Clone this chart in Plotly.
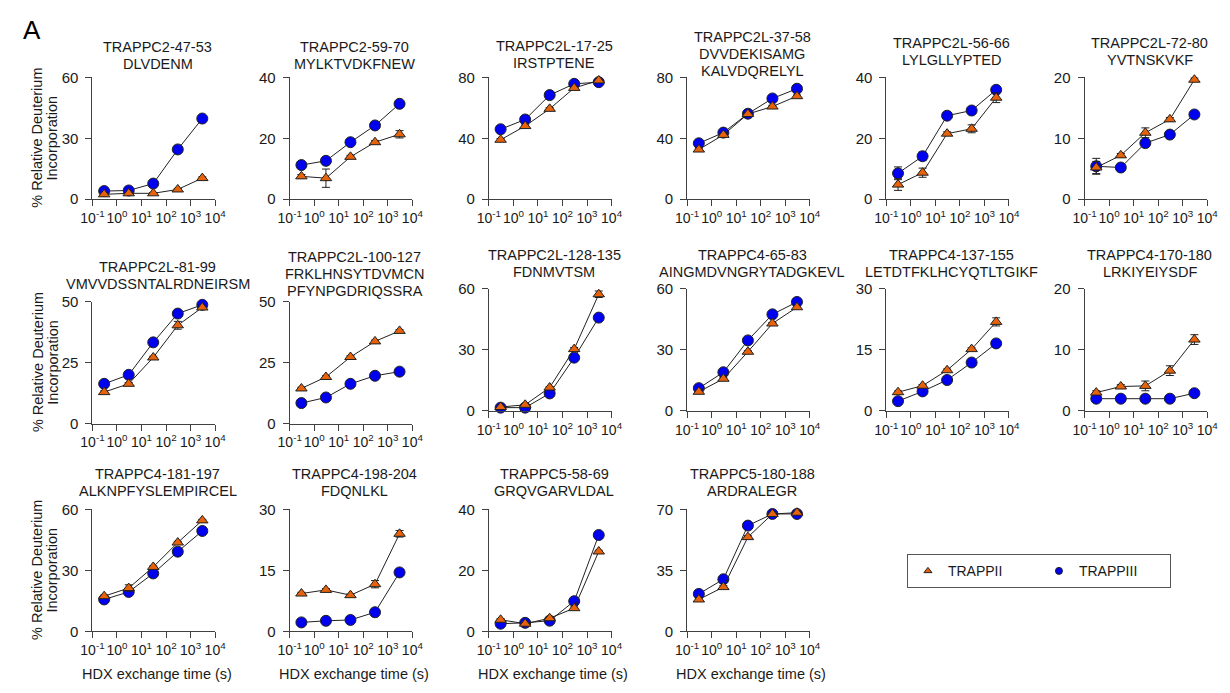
import plotly.graph_objects as go

# HDX exchange time points (s)
TIMES_S = [0.3, 3, 30, 300, 3000]

PEPTIDES = [
    "TRAPPC2-47-53", "TRAPPC2-59-70", "TRAPPC2L-17-25", "TRAPPC2L-37-58",
    "TRAPPC2L-56-66", "TRAPPC2L-72-80", "TRAPPC2L-81-99", "TRAPPC2L-100-127",
    "TRAPPC2L-128-135", "TRAPPC4-65-83", "TRAPPC4-137-155", "TRAPPC4-170-180",
    "TRAPPC4-181-197", "TRAPPC4-198-204", "TRAPPC5-58-69", "TRAPPC5-180-188",
]
SEQUENCES = [
    ["DLVDENM"], ["MYLKTVDKFNEW"], ["IRSTPTENE"], ["DVVDEKISAMG", "KALVDQRELYL"],
    ["LYLGLLYPTED"], ["YVTNSKVKF"], ["VMVVDSSNTALRDNEIRSM"], ["FRKLHNSYTDVMCN", "PFYNPGDRIQSSRA"],
    ["FDNMVTSM"], ["AINGMDVNGRYTADGKEVL"], ["LETDTFKLHCYQTLTGIKF"], ["LRKIYEIYSDF"],
    ["ALKNPFYSLEMPIRCEL"], ["FDQNLKL"], ["GRQVGARVLDAL"], ["ARDRALEGR"],
]
Y_MAX = [60, 40, 80, 80, 40, 20, 50, 50, 60, 60, 30, 20, 60, 30, 40, 70]

# % relative deuterium incorporation (mean)
TRAPPII = [
    [2.4, 2.9, 2.9, 4.8, 10.4],
    [7.5, 6.9, 13.9, 18.7, 21.3],
    [39.0, 48.0, 59.3, 73.0, 77.9],
    [32.6, 42.2, 55.9, 60.8, 67.6],
    [4.8, 8.7, 21.5, 23.1, 33.3],
    [5.2, 7.2, 10.9, 13.1, 19.6],
    [12.9, 16.3, 27.1, 40.3, 47.6],
    [14.4, 19.1, 27.3, 33.7, 38.0],
    [1.9, 3.0, 11.5, 30.4, 57.4],
    [9.4, 15.8, 29.1, 43.0, 51.0],
    [4.6, 6.2, 10.0, 15.2, 21.9],
    [3.0, 4.0, 4.1, 6.6, 11.7],
    [17.3, 21.3, 31.7, 43.7, 54.6],
    [9.3, 10.2, 8.9, 11.6, 24.0],
    [3.8, 2.5, 4.3, 7.6, 26.2],
    [18.3, 25.4, 54.1, 67.4, 68.1],
]
TRAPPIII = [
    [4.0, 4.3, 7.7, 24.5, 39.7],
    [11.2, 12.6, 18.7, 24.2, 31.3],
    [45.9, 52.3, 68.3, 75.7, 76.8],
    [36.7, 43.7, 56.1, 66.1, 72.5],
    [8.5, 14.1, 27.4, 29.1, 35.9],
    [5.4, 5.2, 9.2, 10.6, 13.9],
    [16.3, 20.0, 33.3, 45.1, 48.7],
    [8.4, 10.7, 16.3, 19.6, 21.3],
    [1.6, 1.6, 8.6, 26.2, 45.9],
    [11.2, 19.0, 34.7, 47.5, 53.6],
    [2.4, 4.8, 7.6, 11.9, 16.6],
    [2.0, 2.0, 2.0, 2.0, 2.9],
    [15.7, 19.4, 28.5, 39.2, 49.4],
    [2.2, 2.6, 2.8, 4.7, 14.5],
    [2.5, 2.8, 3.5, 9.9, 31.6],
    [21.5, 29.9, 60.7, 67.4, 67.4],
]

# standard deviations
TRAPPII_SD = [
    [0.5, 0.5, 0.4, 0.5, 0.6],
    [0.6, 3.0, 0.5, 0.5, 1.2],
    [0.8, 0.8, 0.8, 0.8, 0.8],
    [0.8, 0.8, 0.8, 0.8, 0.8],
    [1.9, 1.5, 0.6, 1.3, 1.6],
    [1.0, 0.3, 0.8, 0.3, 0.3],
    [0.5, 0.5, 0.5, 1.6, 0.7],
    [0.5, 0.5, 0.5, 0.5, 0.5],
    [0.5, 0.5, 0.5, 0.8, 1.6],
    [0.5, 0.5, 0.5, 0.5, 0.5],
    [0.3, 0.3, 0.3, 0.3, 1.0],
    [0.3, 0.3, 0.8, 0.8, 0.8],
    [0.5, 1.6, 0.5, 0.6, 0.5],
    [0.3, 0.3, 0.3, 0.9, 0.8],
    [0.4, 0.4, 0.4, 0.4, 0.4],
    [0.8, 0.8, 0.8, 0.8, 0.8],
]
TRAPPIII_SD = [
    [0.5, 0.4, 0.5, 0.6, 0.5],
    [0.4, 0.4, 0.5, 0.5, 0.5],
    [0.8, 0.8, 0.8, 0.8, 0.8],
    [0.8, 0.8, 0.8, 0.8, 0.8],
    [2.1, 1.4, 0.9, 0.7, 0.6],
    [1.3, 0.3, 0.3, 0.3, 0.3],
    [0.5, 1.1, 0.5, 0.5, 0.5],
    [0.5, 0.5, 0.5, 0.5, 0.5],
    [0.5, 0.5, 0.5, 0.5, 0.5],
    [0.5, 0.5, 0.5, 0.5, 0.5],
    [0.3, 0.3, 0.3, 0.3, 0.3],
    [0.2, 0.2, 0.2, 0.2, 0.2],
    [0.5, 0.5, 0.5, 0.5, 0.5],
    [0.3, 0.3, 0.3, 0.3, 0.3],
    [0.4, 0.4, 0.4, 0.4, 0.4],
    [0.8, 0.8, 0.8, 0.8, 0.8],
]

X_TICKS = [0.1, 1, 10, 100, 1000, 10000]
X_TICK_TEXT = ["10<sup>-1</sup>", "10<sup>0</sup>", "10<sup>1</sup>",
               "10<sup>2</sup>", "10<sup>3</sup>", "10<sup>4</sup>"]

# ---- page geometry (pixels) ----
W, H = 1230, 693
COL_LEFT = [82, 283, 486, 688, 891, 1093]
PANEL_W, PANEL_H = 125, 125
PANEL_TOP = [70] * 6 + [300, 300, 287, 287, 287, 287] + [513] * 4
TITLE_Y = [39, 39, 37.5, 29, 34.7, 34.7, 264, 254, 252, 252, 252, 252, 477, 477, 477, 477]
LINE_STEP = 17.5

FONT = "Liberation Sans, Arial, sans-serif"
TXT = "#1a1a1a"
AXC = "#404040"
ORANGE = "#E8620A"
BLUE = "#0000F0"


def px_x(x):
    return x / W


def px_y(y):
    return 1 - y / H


fig = go.Figure()
annotations = []

for i, name in enumerate(PEPTIDES):
    col = i % 6
    left = COL_LEFT[col]
    top = PANEL_TOP[i]
    bottom = top + PANEL_H
    k = "" if i == 0 else str(i + 1)
    xa, ya = "x" + k, "y" + k

    fig.add_trace(go.Scatter(
        x=TIMES_S, y=TRAPPIII[i], xaxis=xa, yaxis=ya, mode="lines+markers",
        name="TRAPPIII", showlegend=False, cliponaxis=False,
        line=dict(color="#222222", width=1),
        marker=dict(symbol="circle", size=11, color=BLUE, line=dict(color="#202020", width=1)),
        error_y=dict(type="data", array=TRAPPIII_SD[i], color="#202020", thickness=1, width=4),
    ))
    fig.add_trace(go.Scatter(
        x=TIMES_S, y=TRAPPII[i], xaxis=xa, yaxis=ya, mode="lines+markers",
        name="TRAPPII", showlegend=False, cliponaxis=False,
        line=dict(color="#222222", width=1),
        marker=dict(symbol="triangle-up", size=10, color=ORANGE, line=dict(color="#202020", width=1)),
        error_y=dict(type="data", array=TRAPPII_SD[i], color="#202020", thickness=1, width=4),
    ))

    ymax = Y_MAX[i]
    fig.update_layout({
        "xaxis" + k: dict(
            domain=[px_x(left), px_x(left + PANEL_W)], anchor=ya, type="log",
            range=[-1, 4], tickvals=X_TICKS, ticktext=X_TICK_TEXT, tickangle=0,
            showline=True, linecolor=AXC, linewidth=1, ticks="outside", ticklen=6,
            tickcolor=AXC, showgrid=False, zeroline=False,
            tickfont=dict(family=FONT, size=14, color=TXT),
        ),
        "yaxis" + k: dict(
            domain=[px_y(bottom), px_y(top)], anchor=xa, range=[0, ymax],
            tickvals=[0, ymax / 2, ymax], ticktext=[str(v) for v in (0, ymax // 2, ymax)],
            showline=True, linecolor=AXC, linewidth=1, ticks="outside", ticklen=6,
            tickcolor=AXC, showgrid=False, zeroline=False, ticklabelstandoff=4,
            tickfont=dict(family=FONT, size=15, color=TXT),
        ),
    })

    # panel title: peptide name then sequence line(s)
    cx = px_x(left + PANEL_W / 2 + 4)
    for j, line in enumerate([name] + SEQUENCES[i]):
        annotations.append(dict(
            x=cx, y=px_y(TITLE_Y[i] + j * LINE_STEP), xref="paper", yref="paper",
            text=line, showarrow=False, xanchor="center", yanchor="middle",
            font=dict(family=FONT, size=14.5, color=TXT),
        ))

    # y-axis titles on the first column
    if col == 0:
        cy = px_y(top + PANEL_H / 2)
        for xpix, txt in ((26, "% Relative Deuterium"), (41, "Incorporation")):
            annotations.append(dict(
                x=px_x(xpix), y=cy, xref="paper", yref="paper", text=txt,
                textangle=-90, showarrow=False, xanchor="center", yanchor="middle",
                font=dict(family=FONT, size=14.5, color=TXT),
            ))
    # x-axis titles on the bottom row
    if i >= 12:
        annotations.append(dict(
            x=px_x(left + PANEL_W / 2 + 3), y=px_y(682), xref="paper", yref="paper",
            text="HDX exchange time (s)", showarrow=False, xanchor="center", yanchor="middle",
            font=dict(family=FONT, size=14.5, color=TXT),
        ))

# legend entries
fig.add_trace(go.Scatter(
    x=[None], y=[None], mode="markers", name="TRAPPII", legendrank=1,
    marker=dict(symbol="triangle-up", size=7, color=ORANGE, line=dict(color="#202020", width=1)),
))
fig.add_trace(go.Scatter(
    x=[None], y=[None], mode="markers", name="TRAPPIII", legendrank=2,
    marker=dict(symbol="circle", size=7, color=BLUE, line=dict(color="#202020", width=1)),
))

annotations.append(dict(
    x=px_x(20), y=px_y(22), xref="paper", yref="paper", text="A", showarrow=False,
    xanchor="center", yanchor="middle", font=dict(family=FONT, size=26, color="#000000"),
))

fig.update_layout(
    width=W, height=H, margin=dict(l=0, r=0, t=0, b=0),
    paper_bgcolor="white", plot_bgcolor="white",
    annotations=annotations,
    showlegend=True,
    legend=dict(
        x=px_x(912), y=px_y(559), xanchor="left", yanchor="top", orientation="h",
        bordercolor="#555555", borderwidth=1, bgcolor="white",
        font=dict(family=FONT, size=14, color=TXT),
        entrywidth=86, itemsizing="trace",
    ),
)

fig.write_html("out.html")
